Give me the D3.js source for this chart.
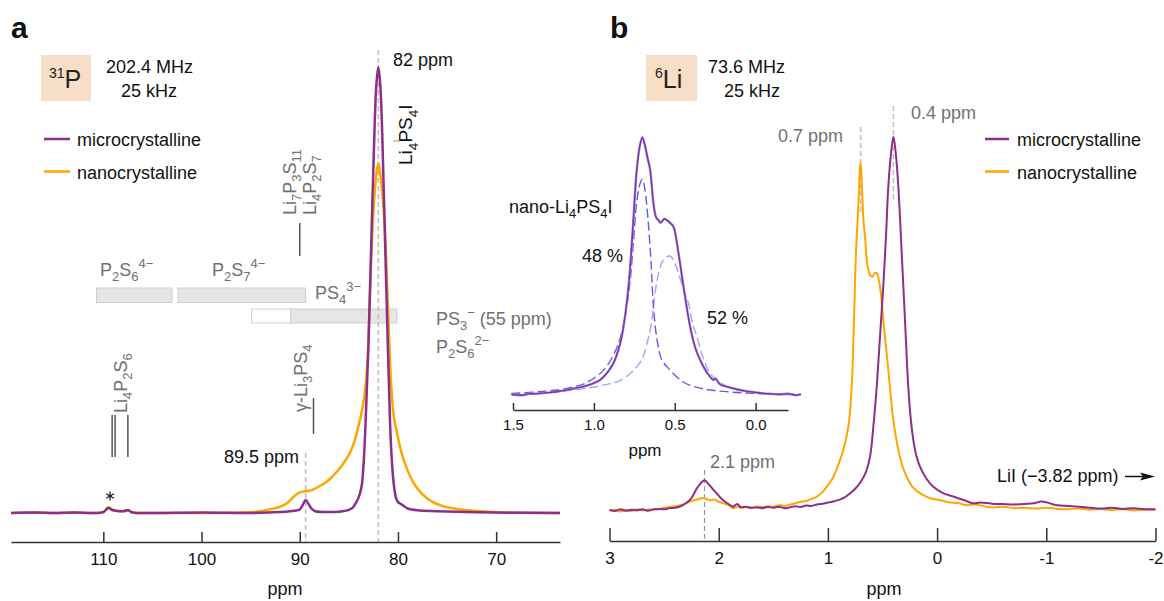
<!DOCTYPE html>
<html><head><meta charset="utf-8">
<script src="https://cdn.jsdelivr.net/npm/d3@7"></script>
<style>body{margin:0;background:#fff} svg{display:block;font-family:"Liberation Sans",Arial,sans-serif}</style>
</head><body><svg id="c" width="1164" height="601"></svg>
<script>
// ---------- DATA ----------
const aTicks = [110, 100, 90, 80, 70];
const bTicks = [3, 2, 1, 0, -1, -2];
const insetTicks = [1.5, 1.0, 0.5, 0.0];
const seriesNames = ["microcrystalline", "nanocrystalline"];

// 31P spectra (ppm, relative intensity)
const pMicro = [[119.4,0],[117,0.1],[115,0],[113,0.1],[111,0],[110,0.2],[109.5,1.1],[109,0.6],[108,0.4],[107.5,0.6],[107,0.1],[105,0],[100,0.1],[95,0],[92,0.2],[91.4,0.3],[90.5,0.5],[90,0.8],[89.7,1.8],[89.4,2.9],[89.1,2.0],[88.8,1.0],[88.4,0.4],[87,0.2],[86,0.3],[85,0.7],[84.6,1.2],[84.3,2.2],[84,3.5],[83.7,6],[83.5,11],[83.3,20],[83,38],[82.7,62],[82.4,85],[82.2,96],[82,100],[81.8,96],[81.6,85],[81.3,60],[81,35],[80.8,20],[80.6,11],[80.4,6],[80.2,3.4],[80,2.5],[79.7,2.0],[79.3,1.4],[79,1.0],[78,0.6],[76,0.4],[73,0.2],[70,0.1],[63.5,0]];
const pNano = [[119.4,0],[117,0.1],[115,0],[113,0.1],[111,0],[110,0.2],[109.5,1.3],[109,0.7],[108,0.4],[107.5,0.6],[107,0.1],[105,0],[100,0],[96,0.1],[94,0.4],[93.3,0.7],[92.5,1.1],[92,1.4],[91.3,2.2],[90.6,3.7],[90,4.6],[89.5,4.9],[89,5.0],[88.6,5.3],[88,6.0],[87.4,6.8],[86.8,7.9],[86.2,9.3],[85.6,11],[85,13],[84.5,15.6],[84.1,18.8],[83.8,21.5],[83.5,25],[83.3,28.5],[83.1,34],[82.95,42],[82.8,52],[82.54,66],[82.2,76],[82,78.5],[81.8,76],[81.39,66],[80.98,44],[80.7,29],[80.44,22],[80.1,18],[79.7,14],[79.1,10],[78.4,6.7],[77.5,4.2],[76.5,2.5],[75.5,1.6],[74.6,1.1],[73,0.6],[70.8,0.3],[68,0.1],[63.5,0]];

// 6Li spectra (ppm, relative intensity)
const liMicro = [[3.0,0.1],[2.95,-0.3],[2.9,0.2],[2.85,-0.2],[2.8,0.1],[2.75,-0.1],[2.7,0.2],[2.65,-0.2],[2.6,0.1],[2.55,0.3],[2.5,0.2],[2.45,0.5],[2.4,0.6],[2.35,1.0],[2.3,1.8],[2.25,3.2],[2.2,5.8],[2.17,7.0],[2.13,8.0],[2.1,7.2],[2.06,5.8],[2.02,4.5],[1.98,3.2],[1.95,2.4],[1.9,1.4],[1.87,0.9],[1.83,1.6],[1.8,0.8],[1.75,0.9],[1.7,0.6],[1.65,0.7],[1.6,0.5],[1.55,0.8],[1.5,0.6],[1.45,0.9],[1.4,0.5],[1.35,0.7],[1.3,1.0],[1.25,0.8],[1.2,1.2],[1.15,1.1],[1.1,1.5],[1.05,1.7],[1.0,2.0],[0.95,2.3],[0.9,2.7],[0.85,3.3],[0.8,4.4],[0.75,5.7],[0.7,7.5],[0.65,10.3],[0.614,14.3],[0.584,22.3],[0.553,33],[0.523,46.4],[0.493,59.8],[0.468,73.2],[0.447,86.6],[0.42,96],[0.4,100],[0.38,96],[0.355,86.6],[0.324,68.8],[0.294,50.9],[0.264,33],[0.24,24],[0.218,18.8],[0.19,14.5],[0.157,11.6],[0.1,8.5],[0.035,6.2],[-0.05,4.6],[-0.148,3.6],[-0.25,2.6],[-0.33,1.8],[-0.4,2.0],[-0.5,1.7],[-0.6,1.6],[-0.7,1.5],[-0.8,1.6],[-0.9,1.9],[-0.95,2.3],[-1.0,2.1],[-1.05,1.6],[-1.1,1.3],[-1.2,1.1],[-1.3,0.9],[-1.4,0.6],[-1.5,0.4],[-1.6,0.6],[-1.7,0.3],[-1.8,0.5],[-1.9,0.2],[-2.0,0.2]];
const liNano = [[3.0,-0.3],[2.95,0.1],[2.9,-0.4],[2.85,0.0],[2.8,-0.3],[2.75,0.2],[2.7,-0.1],[2.65,0.1],[2.6,0.3],[2.55,0.2],[2.5,0.6],[2.45,0.8],[2.4,1.0],[2.35,1.3],[2.3,1.8],[2.25,2.4],[2.2,2.8],[2.15,3.2],[2.12,3.0],[2.08,2.6],[2.04,2.8],[2.0,2.2],[1.95,1.7],[1.9,1.2],[1.87,0.5],[1.83,0.9],[1.8,0.6],[1.75,0.8],[1.7,0.5],[1.65,0.9],[1.6,0.8],[1.55,1.0],[1.5,0.9],[1.45,1.3],[1.4,1.1],[1.35,1.4],[1.3,1.8],[1.25,2.2],[1.2,2.4],[1.15,3.0],[1.1,3.6],[1.05,4.8],[1.0,6.6],[0.96,8.3],[0.935,9.8],[0.9,12.5],[0.859,16.1],[0.813,22.3],[0.782,33],[0.761,50.9],[0.743,68.8],[0.72,82.2],[0.705,92],[0.7,92.9],[0.69,88],[0.675,78],[0.66,73.2],[0.64,66.1],[0.615,63],[0.59,62.5],[0.57,63.5],[0.553,63.4],[0.523,59.8],[0.493,50.9],[0.462,42],[0.432,33],[0.401,24.1],[0.355,16.1],[0.32,12],[0.279,8.9],[0.22,6.0],[0.157,4.5],[0.1,3.6],[0.05,3.0],[-0.025,2.7],[-0.1,2.1],[-0.2,1.8],[-0.27,1.3],[-0.35,1.5],[-0.45,0.9],[-0.525,0.7],[-0.6,0.9],[-0.7,0.5],[-0.8,0.6],[-0.9,0.4],[-1.0,0.6],[-1.1,0.3],[-1.2,0.2],[-1.3,0.4],[-1.4,0.1],[-1.5,0.3],[-1.6,0.0],[-1.7,0.2],[-1.8,-0.1],[-1.9,0.1],[-2.0,0.0]];

// inset: nano-Li4PS4I fit (ppm, relative intensity)
const insetExp = [[1.51,0.6],[1.45,0.3],[1.4,0.8],[1.35,0.9],[1.3,1.2],[1.25,1.5],[1.2,2.0],[1.148,2.6],[1.1,3.2],[1.05,3.9],[1.0,5.0],[0.962,6.2],[0.92,8.8],[0.88,12.6],[0.85,17.5],[0.828,22.9],[0.797,35.8],[0.777,48.7],[0.756,68],[0.735,87.4],[0.715,97],[0.7,100],[0.685,97],[0.668,92],[0.652,87.4],[0.632,74.5],[0.615,69],[0.601,68],[0.59,67],[0.58,67.4],[0.565,68.5],[0.55,68],[0.53,67],[0.508,65.4],[0.477,55.2],[0.446,42.3],[0.405,26.8],[0.375,19],[0.343,13.9],[0.3,9],[0.26,6.2],[0.25,6.8],[0.22,4.5],[0.18,3.6],[0.115,2.6],[0.05,1.8],[0.0,1.4],[-0.05,1.0],[-0.1,0.8],[-0.15,0.6],[-0.2,0.9],[-0.25,0.3],[-0.28,0.6]];
const insetComp1 = [[1.51,1.0],[1.4,1.4],[1.3,1.9],[1.23,2.3],[1.15,3.2],[1.05,5.0],[0.94,10],[0.87,17],[0.83,24],[0.797,34.5],[0.775,45],[0.755,60],[0.735,75],[0.715,82],[0.7,83.8],[0.685,80],[0.665,68],[0.645,50],[0.632,34.5],[0.61,22],[0.58,14],[0.529,10],[0.45,5.5],[0.38,3.6],[0.28,2.3],[0.15,1.5],[0.0,1.0],[-0.15,0.7],[-0.28,0.6]];
const insetComp2 = [[1.51,0.8],[1.4,1.0],[1.3,1.4],[1.148,2.2],[1.0,3.5],[0.9,4.8],[0.839,5.9],[0.77,9],[0.72,12.5],[0.694,15.5],[0.665,22],[0.642,29],[0.625,38],[0.611,44],[0.59,50],[0.565,53],[0.529,54.1],[0.5,51.5],[0.47,46],[0.44,40],[0.415,35.8],[0.39,28],[0.363,22.9],[0.32,14],[0.28,8.6],[0.2,4.5],[0.115,2.3],[0.0,1.2],[-0.15,0.6],[-0.28,0.4]];

// reference ranges in 31P (ppm) : [from, to]
const rangeP2S6 = [110.7, 103.0];
const rangeP2S7 = [102.4, 89.4];
const rangePS4white = [94.9, 90.9];
const rangePS4 = [90.9, 80.1];
const markLi4P2S6 = [109.1, 108.8, 107.5];
const markLi7P3S11 = 90.0;
const markGammaLi3PS4 = 88.6;
const peakP = [82, 89.4];      // dashed references
const peakLi = [0.4, 0.7, 2.13];

// ---------- STYLE ----------
const PURPLE = "#8b2f8a", ORANGE = "#ffa500", GRAY = "#707070", DASH = "#bdbdbd", PEACH = "#f6dfc6";
const svg = d3.select("#c");

function rich(g, x, y, parts, opt = {}) {
  const size = opt.size || 18, sc = opt.scale || 0.72;
  const t = g.append("text").attr("x", x).attr("y", y).attr("font-size", size)
    .attr("fill", opt.fill || "#111").attr("text-anchor", opt.anchor || "start");
  if (opt.rotate) t.attr("transform", `rotate(${opt.rotate},${x},${y})`);
  if (opt.weight) t.attr("font-weight", opt.weight);
  let cur = 0;
  parts.forEach(p => {
    const [s, m] = Array.isArray(p) ? p : [p, ""];
    const target = m === "sub" ? size * 0.3 : m === "sup" ? -size * (opt.supShift || 0.42) : 0;
    t.append("tspan").attr("dy", target - cur).attr("font-size", m ? size * sc : size).text(s);
    cur = target;
  });
  return t;
}
function vline(x, y1, y2, color, w, dash) {
  const l = svg.append("line").attr("x1", x).attr("x2", x).attr("y1", y1).attr("y2", y2)
    .attr("stroke", color).attr("stroke-width", w);
  if (dash) l.attr("stroke-dasharray", dash);
  return l;
}
function drawSeries(data, xs, ys, color, w, dash) {
  const line = d3.line().x(d => xs(d[0])).y(d => ys(d[1])).curve(d3.curveCatmullRom.alpha(0.5));
  const p = svg.append("path").datum(data).attr("d", line).attr("fill", "none")
    .attr("stroke", color).attr("stroke-width", w).attr("stroke-linejoin", "round");
  if (dash) p.attr("stroke-dasharray", dash);
  return p;
}
function axis(xs, y, ticks, tickLen, fmt, fs, pad) {
  const g = svg.append("g").attr("transform", `translate(0,${y})`)
    .call(d3.axisBottom(xs).tickValues(ticks).tickSizeInner(-tickLen).tickSizeOuter(0).tickPadding(pad).tickFormat(fmt));
  g.select(".domain").attr("stroke", "#333").attr("stroke-width", 1.5);
  g.selectAll(".tick line").attr("stroke", "#333").attr("stroke-width", 1.5);
  g.selectAll(".tick text").attr("font-size", fs).attr("fill", "#111").attr("font-family", "Liberation Sans, Arial, sans-serif");
  return g;
}

// ---------- PANEL A ----------
const xA = d3.scaleLinear().domain([119.4, 63.5]).range([11, 560]);
const yA = d3.scaleLinear().domain([0, 100]).range([513, 67]);

svg.append("text").attr("x", 11).attr("y", 38).attr("font-size", 30).attr("font-weight", "bold").attr("fill", "#111").text("a");
svg.append("rect").attr("x", 41).attr("y", 55).attr("width", 50).attr("height", 46).attr("fill", PEACH);
rich(svg, 49, 88, [["31", "sup"], "P"], {size: 25, scale: 0.56, supShift: 0.4, fill: "#222"});
svg.append("text").attr("x", 106).attr("y", 73).attr("font-size", 18).attr("fill", "#111").text("202.4 MHz");
svg.append("text").attr("x", 121).attr("y", 97).attr("font-size", 18).attr("fill", "#111").text("25 kHz");

// legend a
[[PURPLE, 139], [ORANGE, 171.5]].forEach((d, i) => {
  svg.append("line").attr("x1", 44).attr("x2", 70).attr("y1", d[1]).attr("y2", d[1]).attr("stroke", d[0]).attr("stroke-width", 2.5);
  svg.append("text").attr("x", 77).attr("y", d[1] + 7).attr("font-size", 18).attr("fill", "#111").text(seriesNames[i]);
});

// range bars
const bar = (r, y, h, fill) => svg.append("rect").attr("x", xA(r[0])).attr("y", y)
  .attr("width", xA(r[1]) - xA(r[0])).attr("height", h).attr("fill", fill).attr("stroke", "#cfcfcf").attr("stroke-width", 1);
bar(rangeP2S6, 288, 14.5, "#e6e6e6");
bar(rangeP2S7, 288, 14.5, "#e6e6e6");
bar(rangePS4white, 309, 14, "#ffffff");
bar(rangePS4, 309, 14, "#e6e6e6");

rich(svg, 100, 276, ["P", ["2", "sub"], "S", ["6", "sub"], ["4−", "sup"]], {fill: GRAY});
rich(svg, 212, 276, ["P", ["2", "sub"], "S", ["7", "sub"], ["4−", "sup"]], {fill: GRAY});
rich(svg, 315, 299, ["PS", ["4", "sub"], ["3−", "sup"]], {fill: GRAY});
rich(svg, 436, 325, ["PS", ["3", "sub"], ["−", "sup"], " (55 ppm)"], {fill: GRAY});
rich(svg, 436, 353, ["P", ["2", "sub"], "S", ["6", "sub"], ["2−", "sup"]], {fill: GRAY});

// rotated phase labels
rich(svg, 296, 215, ["Li", ["7", "sub"], "P", ["3", "sub"], "S", ["11", "sub"]], {fill: GRAY, rotate: -90});
rich(svg, 316, 215, ["Li", ["4", "sub"], "P", ["2", "sub"], "S", ["7", "sub"]], {fill: GRAY, rotate: -90});
vline(xA(markLi7P3S11), 223, 256, "#555", 1.5);
rich(svg, 127, 413, ["Li", ["4", "sub"], "P", ["2", "sub"], "S", ["6", "sub"]], {fill: GRAY, rotate: -90});
markLi4P2S6.forEach(m => vline(xA(m), 415, 457, "#555", 1.5));
rich(svg, 307, 412, ["γ-Li", ["3", "sub"], "PS", ["4", "sub"]], {fill: GRAY, rotate: -90});
vline(xA(markGammaLi3PS4), 398, 434, "#555", 1.5);
rich(svg, 412, 165, ["Li", ["4", "sub"], "PS", ["4", "sub"], "I"], {size: 19, fill: "#111", rotate: -90});
svg.append("line").attr("x1", 393).attr("x2", 400).attr("y1", 141).attr("y2", 141).attr("stroke", "#999").attr("stroke-width", 1);

// asterisk (spinning sideband)
[0, 60, 120].forEach(a => {
  const r = 4.5, cx = 110, cy = 496, t = a * Math.PI / 180;
  svg.append("line").attr("x1", cx + r * Math.sin(t)).attr("y1", cy - r * Math.cos(t))
    .attr("x2", cx - r * Math.sin(t)).attr("y2", cy + r * Math.cos(t)).attr("stroke", "#111").attr("stroke-width", 1.2);
});

vline(xA(peakP[0]), 50, 542, DASH, 1.5, "5,3");
vline(xA(peakP[1]), 453, 542, DASH, 1.5, "5,3");
svg.append("text").attr("x", 393).attr("y", 66).attr("font-size", 18).attr("fill", "#111").text("82 ppm");
svg.append("text").attr("x", 224).attr("y", 463).attr("font-size", 18).attr("fill", "#111").text("89.5 ppm");

drawSeries(pNano, xA, yA, ORANGE, 2.5);
drawSeries(pMicro, xA, yA, PURPLE, 2.5);

axis(xA, 542, aTicks, 10, d => String(d), 17, 11);
svg.append("text").attr("x", 285).attr("y", 595).attr("text-anchor", "middle").attr("font-size", 18).attr("fill", "#111").text("ppm");

// ---------- PANEL B ----------
const xB = d3.scaleLinear().domain([3, -2]).range([609.5, 1155.5]);
const yB = d3.scaleLinear().domain([0, 100]).range([510, 136.7]);

svg.append("text").attr("x", 610).attr("y", 38).attr("font-size", 30).attr("font-weight", "bold").attr("fill", "#111").text("b");
svg.append("rect").attr("x", 646).attr("y", 55).attr("width", 51).attr("height", 46).attr("fill", PEACH);
rich(svg, 655, 88, [["6", "sup"], "Li"], {size: 25, scale: 0.56, supShift: 0.4, fill: "#222"});
svg.append("text").attr("x", 708).attr("y", 73).attr("font-size", 18).attr("fill", "#111").text("73.6 MHz");
svg.append("text").attr("x", 724).attr("y", 97).attr("font-size", 18).attr("fill", "#111").text("25 kHz");

[[PURPLE, 139], [ORANGE, 171.5]].forEach((d, i) => {
  svg.append("line").attr("x1", 985).attr("x2", 1009).attr("y1", d[1]).attr("y2", d[1]).attr("stroke", d[0]).attr("stroke-width", 2.5);
  svg.append("text").attr("x", 1017).attr("y", d[1] + 7).attr("font-size", 18).attr("fill", "#111").text(seriesNames[i]);
});

vline(xB(peakLi[0]), 106, 200, DASH, 1.5, "5,3");
vline(xB(peakLi[1]), 127, 215, DASH, 1.5, "5,3");
vline(xB(peakLi[2]), 470, 541, "#999", 1.2, "5,3");
svg.append("text").attr("x", 911).attr("y", 119).attr("font-size", 18).attr("fill", GRAY).text("0.4 ppm");
svg.append("text").attr("x", 778).attr("y", 142).attr("font-size", 18).attr("fill", GRAY).text("0.7 ppm");
svg.append("text").attr("x", 710).attr("y", 468).attr("font-size", 18).attr("fill", GRAY).text("2.1 ppm");

svg.append("text").attr("x", 997).attr("y", 482).attr("font-size", 18).attr("fill", "#111").text("LiI (−3.82 ppm)");
svg.append("line").attr("x1", 1125).attr("x2", 1145).attr("y1", 476.5).attr("y2", 476.5).attr("stroke", "#111").attr("stroke-width", 1.5);
svg.append("path").attr("d", "M1155,476.5 L1140,472.5 L1143,476.5 L1140,480.5 Z").attr("fill", "#111");

drawSeries(liNano, xB, yB, ORANGE, 2);
drawSeries(liMicro, xB, yB, PURPLE, 2);

axis(xB, 541, bTicks, 13, d => String(d), 17, 11);
svg.append("text").attr("x", 884).attr("y", 595).attr("text-anchor", "middle").attr("font-size", 18).attr("fill", "#111").text("ppm");

// ---------- INSET ----------
const xI = d3.scaleLinear().domain([1.5, -0.2]).range([513, 788]);
const yI = d3.scaleLinear().domain([0, 100]).range([396, 137.3]);
drawSeries(insetComp2, xI, yI, "#a3a3f7", 1.4, "9,4");
drawSeries(insetComp1, xI, yI, "#5c5ce8", 1.4, "9,4");
drawSeries(insetExp, xI, yI, "#8d8df5", 2.4);
drawSeries(insetExp, xI, yI, PURPLE, 1.3);
axis(xI, 410, insetTicks, 7, d3.format(".1f"), 15, 9);
svg.append("text").attr("x", 645).attr("y", 456).attr("text-anchor", "middle").attr("font-size", 17).attr("fill", "#111").text("ppm");
rich(svg, 509, 213, ["nano-Li", ["4", "sub"], "PS", ["4", "sub"], "I"], {fill: "#111"});
svg.append("text").attr("x", 582).attr("y", 262).attr("font-size", 18).attr("fill", "#111").text("48 %");
svg.append("text").attr("x", 707).attr("y", 324).attr("font-size", 18).attr("fill", "#111").text("52 %");
</script></body></html>
